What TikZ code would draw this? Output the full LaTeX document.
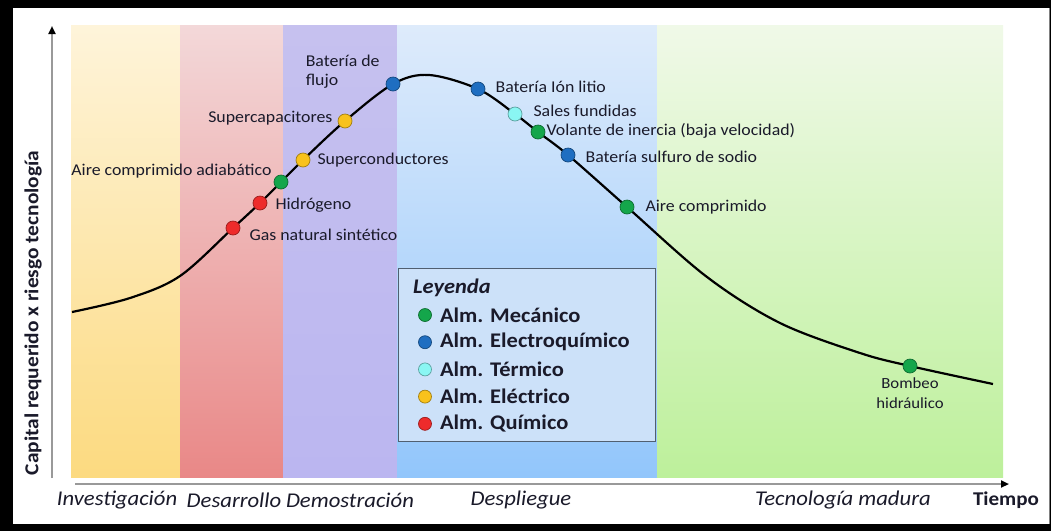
\documentclass[tikz,border=0pt]{standalone}
\usepackage{fontspec}
\setmainfont{Carlito}[FakeStretch=1.08]
\usetikzlibrary{positioning,arrows.meta}
\definecolor{cmec}{HTML}{14A64B}
\definecolor{celq}{HTML}{1F6EC1}
\definecolor{cter}{HTML}{8AF6F3}
\definecolor{celc}{HTML}{F8C21C}
\definecolor{cqui}{HTML}{EE2B2B}
\definecolor{ink}{HTML}{1A1A2A}
\tikzset{font={\fontsize{16.5pt}{19}\selectfont}}
\tikzset{
  dot/.style={circle, inner sep=0pt, minimum size=14pt, fill=#1, draw=#1!65!black, line width=0.7pt},
  ldot/.style={circle, inner sep=0pt, minimum size=13pt, fill=#1, draw=#1!65!black, line width=0.7pt},
  lbl/.style={inner sep=1pt, text=ink},
  phase/.style={inner sep=1pt, text=ink, font={\fontsize{21pt}{23}\selectfont\itshape}},
  leg/.style={inner sep=1pt, text=ink, font={\fontsize{20.8pt}{23}\selectfont\bfseries}},
  axis/.style={draw=black!40, line width=2.4pt, -{Triangle[length=8pt,width=7pt,color=black]}},
}

\begin{document}
\begin{tikzpicture}[x=1pt,y=-1pt]
  \useasboundingbox (0,0) rectangle (1051,531);
  % Frame
  \fill[black] (0,0) rectangle (1051,531);
  \fill[white] (13,8) rectangle (1049,524);
  \draw[black!50, line width=1pt] (1049.5,8) -- (1049.5,524);

  % Phases
  \shade[top color={rgb,255:red,254;green,244;blue,218}, bottom color={rgb,255:red,252;green,218;blue,128}] (71,25) rectangle (180,477);
  \shade[top color={rgb,255:red,243;green,216;blue,217}, bottom color={rgb,255:red,233;green,136;blue,135}] (180,25) rectangle (283,477);
  \shade[top color={rgb,255:red,198;green,193;blue,239}, bottom color={rgb,255:red,187;green,182;blue,240}] (283,25) rectangle (397,477);
  \shade[top color={rgb,255:red,222;green,235;blue,251}, bottom color={rgb,255:red,146;green,198;blue,251}] (397,25) rectangle (657,477);
  \shade[top color={rgb,255:red,240;green,249;blue,232}, bottom color={rgb,255:red,189;green,240;blue,155}] (657,25) rectangle (1003,477);

  % Axes
  \coordinate (ybot) at (52,478);
  \coordinate (ytop) at (52,26);
  \coordinate (xleft) at (75,484);
  \coordinate (xright) at (1009,484);
  \draw[axis] (ybot) -- (ytop);
  \draw[axis] (xleft) -- (xright);
  \node[rotate=90, text=ink, font={\fontsize{19.8pt}{22}\selectfont\bfseries}] (ylab) at (33,313) {Capital requerido x riesgo tecnología};

  \node[phase] (inv) at (117,500) {Investigación};
  \node[phase] (des) at (234,500) {Desarrollo};
  \node[phase] (dem) at (350,500) {Demostración};
  \node[phase] (dep) at (521,500) {Despliegue};
  \node[phase] (mad) at (843,500) {Tecnología madura};
  \node[text=ink, font={\fontsize{19.5pt}{22}\selectfont\bfseries}] (tiempo) at (1006,500) {Tiempo};

  % Points on the curve
  \coordinate (gas) at (233,228);
  \coordinate (hid) at (260,203);
  \coordinate (aad) at (281,182);
  \coordinate (sco) at (303,160);
  \coordinate (sca) at (345,121);
  \coordinate (flu) at (393,84);
  \coordinate (ion) at (478,89);
  \coordinate (sal) at (515,114);
  \coordinate (vol) at (538,132);
  \coordinate (sul) at (568,155);
  \coordinate (aco) at (627,207);
  \coordinate (bom) at (910,366);

  % Curve
  \draw[line width=2.2pt, black] plot[smooth, tension=0.55] coordinates {(72,312) (130,298) (180,276) (gas) (hid) (aad) (sco) (sca) (flu) (429,75) (ion) (sal) (vol) (sul) (aco) (707,277) (780,323) (860,353) (bom) (993,384)};

  % Technologies
  \node[dot=cqui] (ngas) at (gas) {};
  \node[dot=cqui] (nhid) at (hid) {};
  \node[dot=cmec] (naad) at (aad) {};
  \node[dot=celc] (nsco) at (sco) {};
  \node[dot=celc] (nsca) at (sca) {};
  \node[dot=celq] (nflu) at (flu) {};
  \node[dot=celq] (nion) at (ion) {};
  \node[dot=cter] (nsal) at (sal) {};
  \node[dot=cmec] (nvol) at (vol) {};
  \node[dot=celq] (nsul) at (sul) {};
  \node[dot=cmec] (naco) at (aco) {};
  \node[dot=cmec] (nbom) at (bom) {};

  \node[lbl, right=8pt of ngas, yshift=-7pt] (tgas) {Gas natural sintético};
  \node[lbl, right=7pt of nhid, yshift=-2pt] (thid) {Hidrógeno};
  \node[lbl, left=1pt of naad, yshift=11pt] (taad) {Aire comprimido adiabático};
  \node[lbl, right=6pt of nsco] (tsco) {Superconductores};
  \node[lbl, left=4pt of nsca, yshift=3pt] (tsca) {Supercapacitores};
  \node[lbl, align=left, anchor=south east] (tflu) at ([xshift=-7pt]nflu.south west) {Batería de\\flujo};
  \node[lbl, right=9pt of nion, yshift=2pt] (tion) {Batería Ión litio};
  \node[lbl, right=10pt of nsal, yshift=3pt] (tsal) {Sales fundidas};
  \node[lbl, right=0pt of nvol, yshift=1pt] (tvol) {Volante de inercia (baja velocidad)};
  \node[lbl, right=9pt of nsul, yshift=-2pt] (tsul) {Batería sulfuro de sodio};
  \node[lbl, right=10pt of naco] (taco) {Aire comprimido};
  \node[lbl, align=center, below=3pt of nbom, font={\fontsize{15.5pt}{20}\selectfont}] (tbom) {Bombeo\\hidráulico};

  % Legend
  \node[draw={rgb,255:red,80;green,95;blue,112}, line width=1.3pt, fill={rgb,255:red,204;green,225;blue,249}, minimum width=257pt, minimum height=173pt, anchor=north west, inner sep=0pt] (legbox) at (398,268) {};
  \node[leg, font={\fontsize{20.8pt}{23}\selectfont\bfseries\itshape}, anchor=west] (leyenda) at (412,288) {Leyenda};
  \node[ldot=cmec] (lmec) at (425,315) {};
  \node[ldot=celq, below=13.5pt of lmec] (lelq) {};
  \node[ldot=cter, below=13.5pt of lelq] (lter) {};
  \node[ldot=celc, below=13.5pt of lter] (lelc) {};
  \node[ldot=cqui, below=13.5pt of lelc] (lqui) {};
  \node[leg, right=7pt of lmec] (tmec) {Alm. Mecánico};
  \node[leg, right=7pt of lelq] (telq) {Alm. Electroquímico};
  \node[leg, right=7pt of lter] (tter) {Alm. Térmico};
  \node[leg, right=7pt of lelc] (telc) {Alm. Eléctrico};
  \node[leg, right=7pt of lqui] (tqui) {Alm. Químico};
\end{tikzpicture}
\end{document}
